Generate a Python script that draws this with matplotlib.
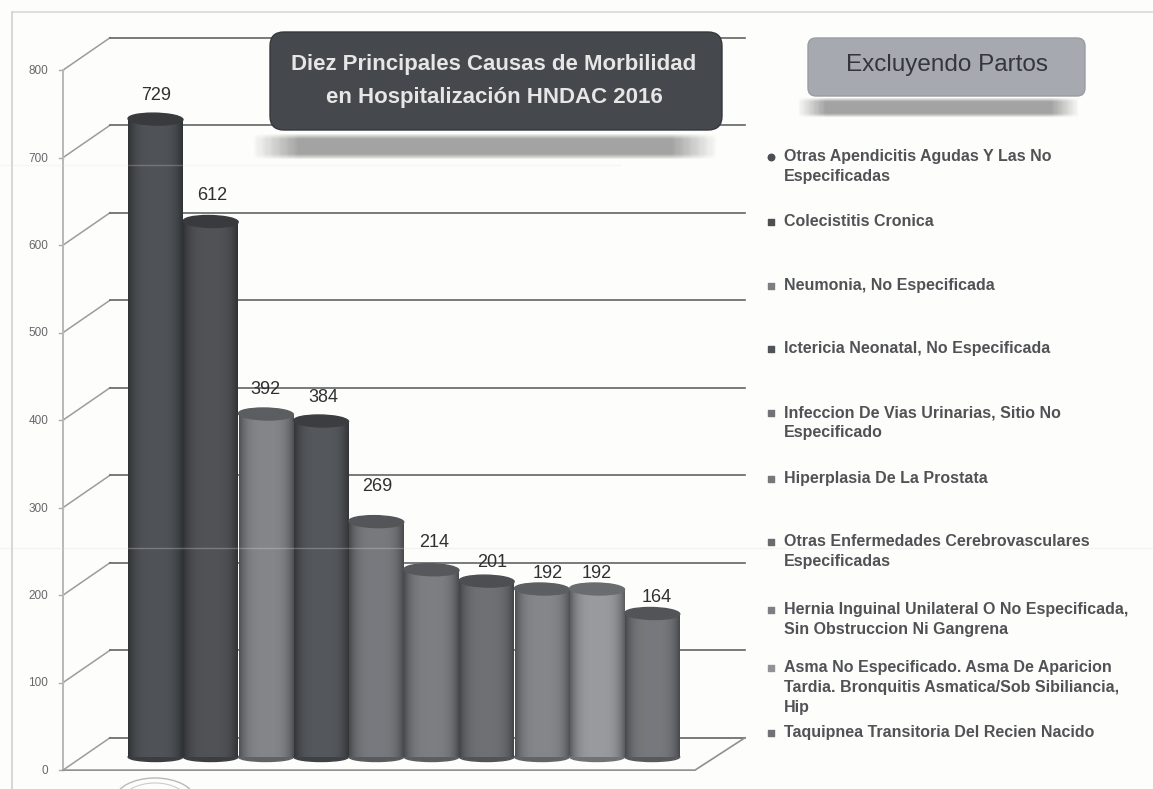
import numpy as np

import matplotlib as mpl
mpl.use('Agg')
import matplotlib.pyplot as plt
from matplotlib.colors import to_rgb
from matplotlib.patches import Ellipse, FancyBboxPatch

plt.rcParams['font.family'] = ['Liberation Sans', 'DejaVu Sans']

values = [729, 612, 392, 384, 269, 214, 201, 192, 192, 164]
bar_colors = ['#4b4e52', '#4d4e52', '#7c7e82', '#505357', '#717377',
              '#75777b', '#686a6e', '#7d7f83', '#909296', '#707276']
causes = ['Otras Apendicitis Agudas Y Las No\nEspecificadas',
          'Colecistitis Cronica',
          'Neumonia, No Especificada',
          'Ictericia Neonatal, No Especificada',
          'Infeccion De Vias Urinarias, Sitio No\nEspecificado',
          'Hiperplasia De La Prostata',
          'Otras Enfermedades Cerebrovasculares\nEspecificadas',
          'Hernia Inguinal Unilateral O No Especificada,\nSin Obstruccion Ni Gangrena',
          'Asma No Especificado. Asma De Aparicion\nTardia. Bronquitis Asmatica/Sob Sibiliancia,\nHip',
          'Taquipnea Transitoria Del Recien Nacido']
y_ticks = [0, 100, 200, 300, 400, 500, 600, 700, 800]
title = 'Diez Principales Causas de Morbilidad\nen Hospitalización HNDAC 2016'
subtitle = 'Excluyendo Partos'

# layout, in reference pixels
W, H = 1153, 789
BAR_X0, BAR_STEP, BASE_Y, PX_PER_UNIT = 155.5, 55.2, 757, 0.875
label_gap = [24, 26, 25, 24, 35, 27, 19, 16, 15, 16]
label_shift = [1, 1, 0, 2, 1, 3, 5, 6, 0, 4]
legend_y = [158, 223, 287, 350, 414, 480, 543, 611, 669, 734]


def shadow(page, x0, x1, y0, y1, alpha=0.5):
    t = np.linspace(-1, 1, 24)
    a = alpha * np.clip((1 - np.abs(t)) * 2.5, 0, 1)
    edge = np.clip(np.linspace(0, 1, 60) * 10, 0, 1)
    img = np.ones((24, 60, 4)) * 0.58
    img[..., 3] = a[:, None] * edge[None, :] * edge[None, ::-1]
    page.imshow(img, extent=(x0, x1, y1, y0), aspect='auto', zorder=2)


def draw_bar(ax, i, value, color):
    base = np.array(to_rgb(color))
    t = np.linspace(-1, 1, 80)
    shade = 1.06 - 0.42 * np.abs(t) ** 3.5
    img = np.clip(base[None, None, :] * shade[None, :, None], 0, 1)
    half = 0.495
    ax.add_patch(Ellipse((i, 0), half * 2, 9 / PX_PER_UNIT, color=base * 0.78, zorder=3 + i * 0.01))
    ax.imshow(img, extent=(i - half, i + half, 0, value), aspect='auto', zorder=3 + i * 0.01)
    ax.add_patch(Ellipse((i, value), half * 2, 12 / PX_PER_UNIT, angle=0.4,
                         color=base * 0.74, zorder=3 + i * 0.01))


def main():
    fig = plt.figure(figsize=(W / 100, H / 100), dpi=100, facecolor='#fdfdfb')

    ax = fig.add_axes([0, 0, 1, 1], facecolor='none')
    ax.axis('off')

    # walls: front edge sits 15 units under the bars, back edge 22 units over
    left, back, right = (63 - BAR_X0) / BAR_STEP, (110 - BAR_X0) / BAR_STEP, (745 - BAR_X0) / BAR_STEP
    for v in y_ticks:
        ax.plot([left, back], [v - 15, v + 22], color='#9a9c9e', lw=1.1, zorder=1)
        ax.plot([back, right], [v + 22, v + 22], color='#626466', lw=1.2, zorder=1)
        ax.plot([left - 0.07, left], [v - 15, v - 15], color='#aaaaaa', lw=1, zorder=1)
        ax.text(left - 0.27, v - 15 - 1, str(v), ha='right', va='center', fontsize=8.5,
                color='#66686a')
    ax.plot([left, left], [-15, 785], color='#b8b8b8', lw=1.4, zorder=1)
    floor_r = (695 - BAR_X0) / BAR_STEP
    ax.plot([left, floor_r, right], [-15, -15, 22], color='#8d8f91', lw=1.2, zorder=1)

    for i, (value, color) in enumerate(zip(values, bar_colors)):
        draw_bar(ax, i, value, color)
        ax.text(i + label_shift[i] / BAR_STEP, value + label_gap[i] / PX_PER_UNIT, str(value),
                ha='center', va='center', fontsize=13, color='#2f3032', zorder=6)

    ax.set_xlim(-BAR_X0 / BAR_STEP, (W - BAR_X0) / BAR_STEP)
    ax.set_ylim((BASE_Y - H) / PX_PER_UNIT, BASE_Y / PX_PER_UNIT)

    # pixel layer for the boxes, legend and scan marks
    page = fig.add_axes([0, 0, 1, 1], facecolor='none')
    page.axis('off')

    page.plot([12, 12], [12, H], color='#d6d6d6', lw=1.4)
    page.plot([12, W], [12, 12], color='#d8d8d8', lw=1.2)
    page.plot([0, 1153], [548, 548], color='#dddddd', lw=1, alpha=0.3)
    page.plot([0, 620], [165, 165], color='#e4e4e4', lw=1, alpha=0.25)
    page.add_patch(Ellipse((155, 800), 80, 44, fill=False, ec='#b8b8b8', lw=1))
    page.add_patch(Ellipse((155, 802), 66, 38, fill=False, ec='#cccccc', lw=0.8))

    shadow(page, 248, 722, 133, 160, alpha=0.85)
    page.add_patch(FancyBboxPatch((282, 44), 428, 74, boxstyle='round,pad=12,rounding_size=14',
                                  fc='#45484c', ec='#35383b', lw=1, zorder=3))
    page.text(494, 81, title, ha='center', va='center', fontsize=16, fontweight='bold',
              color='#e6e6e6', linespacing=1.75, zorder=4)

    shadow(page, 795, 1082, 97, 118, alpha=0.85)
    page.add_patch(FancyBboxPatch((814, 44), 265, 46, boxstyle='round,pad=6,rounding_size=8',
                                  fc='#a6a9b0', ec='#999ca3', lw=1, zorder=3))
    page.text(947, 65, subtitle, ha='center', va='center', fontsize=17.5,
              color='#34363a', zorder=4)

    for i, (cause, color, y) in enumerate(zip(causes, bar_colors, legend_y)):
        page.scatter([771], [y - 1], s=22, marker='o' if i == 0 else 's', color=color, zorder=4)
        page.text(784, y - 9, cause, ha='left', va='top', fontsize=11.5, fontweight='bold',
                  color='#505255', linespacing=1.42, zorder=4)

    page.set_xlim(0, W)
    page.set_ylim(H, 0)

    fig.savefig('out.png', dpi=100, facecolor=fig.get_facecolor())


if __name__ == '__main__':
    main()
